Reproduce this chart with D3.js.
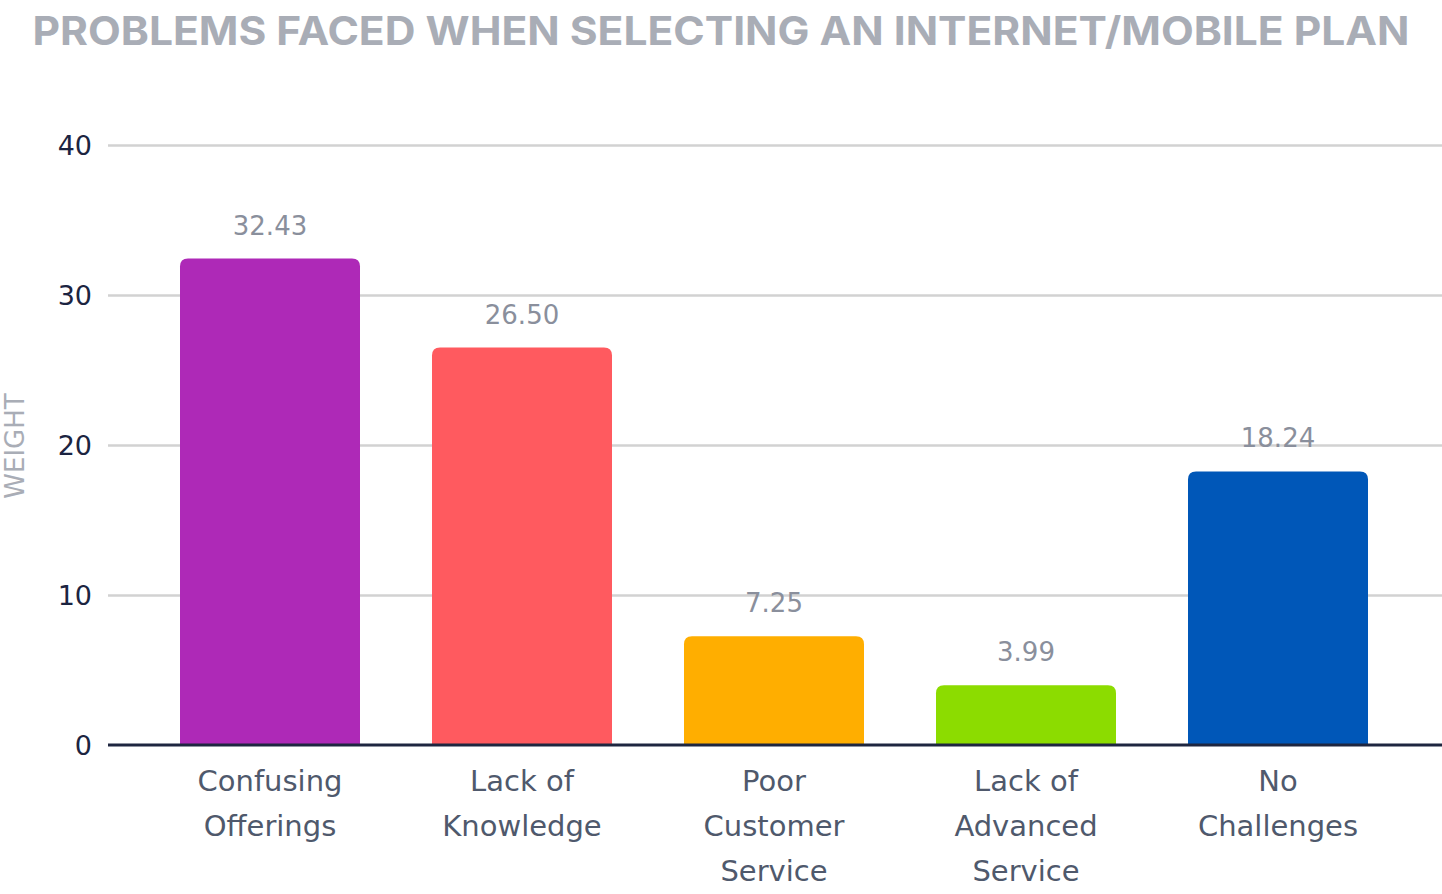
<!DOCTYPE html>
<html>
<head>
<meta charset="utf-8">
<script src="https://cdn.jsdelivr.net/npm/d3@7"></script>
<style>
  html, body { margin: 0; padding: 0; background: #ffffff; }
  svg { display: block; }
</style>
</head>
<body>
<svg id="chart" width="1442" height="894"></svg>
<script>
const titleText = "PROBLEMS FACED WHEN SELECTING AN INTERNET/MOBILE PLAN";
const yAxisTitle = "WEIGHT";
const categories = [
  ["Confusing", "Offerings"],
  ["Lack of", "Knowledge"],
  ["Poor", "Customer", "Service"],
  ["Lack of", "Advanced", "Service"],
  ["No", "Challenges"]
];
const values = [32.43, 26.50, 7.25, 3.99, 18.24];
const valueLabels = ["32.43", "26.50", "7.25", "3.99", "18.24"];
const barColors = ["#AE29B7", "#FF5A5F", "#FFAE00", "#8CDC00", "#0057B8"];
const yTicks = [0, 10, 20, 30, 40];

const svg = d3.select("#chart");
const labelFont = "'DejaVu Sans', 'Noto Sans', sans-serif";

const x = d3.scaleBand()
  .domain(d3.range(categories.length))
  .range([144, 1404])
  .paddingInner(72 / 252)
  .paddingOuter(36 / 252);

const y = d3.scaleLinear().domain([0, 40]).range([745, 145]);

// title
svg.append("text")
  .attr("x", 721).attr("y", 45)
  .attr("text-anchor", "middle")
  .attr("font-family", "Inter, 'Noto Sans', sans-serif")
  .attr("font-weight", 700)
  .attr("font-size", 39)
  .attr("fill", "#A9ADB6")
  .attr("textLength", 1377)
  .attr("lengthAdjust", "spacingAndGlyphs")
  .text(titleText);

// gridlines
const grid = svg.append("g")
  .attr("transform", "translate(108,0)")
  .call(d3.axisLeft(y).tickValues(yTicks.filter(d => d !== 0)).tickSize(-1334).tickFormat(""));
grid.select(".domain").remove();
grid.selectAll("line").attr("stroke", "#D2D2D2").attr("stroke-width", 2.5);

// y tick labels
const yAxis = svg.append("g")
  .attr("transform", "translate(92,0)")
  .call(d3.axisLeft(y).tickValues(yTicks).tickSize(0).tickPadding(0));
yAxis.select(".domain").remove();
yAxis.selectAll("text")
  .attr("font-family", labelFont)
  .attr("font-size", 27)
  .attr("fill", "#1B2441")
  .attr("dy", "0.36em");

// y axis title
svg.append("text")
  .attr("transform", "translate(24,446) rotate(-90)")
  .attr("text-anchor", "middle")
  .attr("font-family", labelFont)
  .attr("font-size", 26)
  .attr("fill", "#A9ADB6")
  .text(yAxisTitle);

// bars with rounded top corners
const r = 8;
function barPath(i) {
  const x0 = x(i), w = x.bandwidth(), y0 = y(values[i]), yb = y(0);
  return `M${x0},${yb}V${y0 + r}Q${x0},${y0} ${x0 + r},${y0}H${x0 + w - r}Q${x0 + w},${y0} ${x0 + w},${y0 + r}V${yb}Z`;
}
svg.append("g").selectAll("path")
  .data(values)
  .join("path")
  .attr("d", (d, i) => barPath(i))
  .attr("fill", (d, i) => barColors[i]);

// value labels
svg.append("g").selectAll("text")
  .data(values)
  .join("text")
  .attr("x", (d, i) => x(i) + x.bandwidth() / 2)
  .attr("y", d => y(d) - 24)
  .attr("text-anchor", "middle")
  .attr("font-family", labelFont)
  .attr("font-size", 26)
  .attr("fill", "#8A8F9C")
  .text((d, i) => valueLabels[i]);

// baseline (x axis)
const xAxis = svg.append("g")
  .attr("transform", "translate(0,745)")
  .call(d3.axisBottom(x).tickSize(0).tickFormat(""));
xAxis.select(".domain").remove();
svg.append("line")
  .attr("x1", 108).attr("x2", 1442)
  .attr("y1", y(0)).attr("y2", y(0))
  .attr("stroke", "#1E2640").attr("stroke-width", 3);

// category labels
const cat = svg.append("g").selectAll("text")
  .data(categories)
  .join("text")
  .attr("text-anchor", "middle")
  .attr("font-family", labelFont)
  .attr("font-size", 29)
  .attr("fill", "#4F596C");
cat.each(function(lines, i) {
  d3.select(this).selectAll("tspan")
    .data(lines)
    .join("tspan")
    .attr("x", x(i) + x.bandwidth() / 2)
    .attr("y", (l, j) => 791 + j * 45)
    .text(l => l);
});
</script>
</body>
</html>
